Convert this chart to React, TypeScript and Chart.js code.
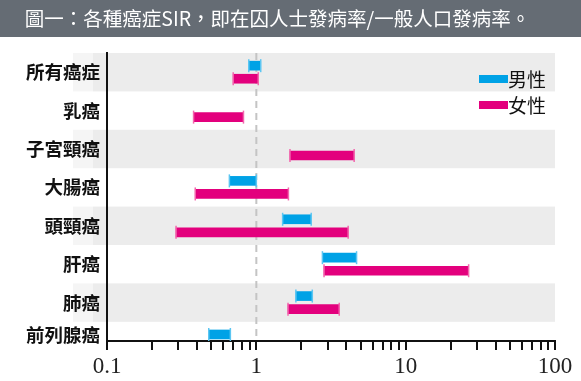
import { useEffect, useRef } from "react";
import { Chart, registerables } from "chart.js";
Chart.register(...registerables);

const TITLE = "圖一：各種癌症SIR，即在囚人士發病率/一般人口發病率。";
const categories = ["所有癌症", "乳癌", "子宮頸癌", "大腸癌", "頭頸癌", "肝癌", "肺癌", "前列腺癌"];
const seriesNames = ["男性", "女性"];
const maleLow: (number | null)[] = [0.89, null, null, 0.66, 1.5, 2.77, 1.84, 0.48];
const maleHigh: (number | null)[] = [1.07, null, null, 1.0, 2.33, 4.69, 2.37, 0.67];
const femaleLow: (number | null)[] = [0.7, 0.38, 1.68, 0.39, 0.29, 2.84, 1.63, null];
const femaleHigh: (number | null)[] = [1.03, 0.82, 4.52, 1.64, 4.12, 26.4, 3.59, null];
const xTickLabels = [0.1, 1, 10, 100];
const referenceValue = 1;

const BLUE = "#00a2e6";
const PINK = "#e3007d";
const BLUE_CAP = "#5cc6f2";
const PINK_CAP = "#f266ad";

function buildData(lo: (number | null)[], hi: (number | null)[], shift: number) {
  const out: any[] = [];
  categories.forEach((_, i) => {
    const a = lo[i];
    const b = hi[i];
    if (a != null && b != null) out.push({ x: [a, b], y: i + shift });
  });
  return out;
}

const bgPlugin = {
  id: "bgPlugin",
  beforeDraw(chart: any) {
    const { ctx, chartArea, scales } = chart;
    ctx.save();
    ctx.fillStyle = "#ffffff";
    ctx.fillRect(0, 0, chart.width, chart.height);
    ctx.fillStyle = "#656c74";
    ctx.fillRect(0, 0, chart.width, 37);
    const y = scales.y;
    for (let i = 0; i < categories.length; i += 2) {
      const t = Math.max(y.getPixelForValue(i - 0.5), chartArea.top);
      const b = Math.min(y.getPixelForValue(i + 0.5), chartArea.bottom);
      if (b <= t) continue;
      ctx.fillStyle = "#f5f5f5";
      ctx.fillRect(chartArea.left - 34, t, 20, b - t);
      ctx.fillStyle = "#ececec";
      ctx.fillRect(chartArea.left - 14, t, chartArea.right - chartArea.left + 14, b - t);
    }
    const x1 = scales.x.getPixelForValue(referenceValue);
    ctx.strokeStyle = "#c4c4c4";
    ctx.lineWidth = 2;
    ctx.setLineDash([7, 5]);
    ctx.beginPath();
    ctx.moveTo(x1, chartArea.top);
    ctx.lineTo(x1, chartArea.bottom);
    ctx.stroke();
    ctx.restore();
  },
};

const capPlugin = {
  id: "capPlugin",
  afterDatasetsDraw(chart: any) {
    const { ctx } = chart;
    ctx.save();
    chart.data.datasets.forEach((ds: any, di: number) => {
      const meta = chart.getDatasetMeta(di);
      ctx.strokeStyle = ds.capColor;
      ctx.lineWidth = 1.5;
      meta.data.forEach((el: any) => {
        const { x, base, y, height } = el.getProps(["x", "base", "y", "height"], true);
        const h = height / 2 + 2;
        [x, base].forEach((px: number) => {
          ctx.beginPath();
          ctx.moveTo(px, y - h);
          ctx.lineTo(px, y + h);
          ctx.stroke();
        });
      });
    });
    ctx.restore();
  },
};

const legendPlugin = {
  id: "legendPlugin",
  afterDraw(chart: any) {
    const { ctx, chartArea } = chart;
    ctx.save();
    chart.data.datasets.forEach((ds: any, i: number) => {
      const cy = chartArea.top + 26 + i * 26;
      const sx = chartArea.right - 76;
      ctx.fillStyle = ds.backgroundColor;
      ctx.fillRect(sx, cy - 4, 29, 8);
      ctx.fillStyle = "#111";
      ctx.font = "19px 'Noto Sans CJK TC'";
      ctx.textBaseline = "middle";
      ctx.textAlign = "left";
      ctx.fillText(ds.label, sx + 29, cy + 1);
    });
    ctx.restore();
  },
};

export default function App() {
  const ref = useRef<HTMLCanvasElement>(null);
  useEffect(() => {
    const canvas = ref.current;
    if (!canvas) return;
    const chart = new Chart(canvas, {
      type: "bar",
      data: {
        datasets: [
          {
            label: seriesNames[0],
            data: buildData(maleLow, maleHigh, -0.17),
            backgroundColor: BLUE,
            capColor: BLUE_CAP,
            barThickness: 9,
            grouped: false,
          } as any,
          {
            label: seriesNames[1],
            data: buildData(femaleLow, femaleHigh, 0.17),
            backgroundColor: PINK,
            capColor: PINK_CAP,
            barThickness: 9,
            grouped: false,
          } as any,
        ],
      },
      options: {
        indexAxis: "y",
        animation: false,
        responsive: false,
        events: [],
        layout: { padding: { left: 0, right: 26, top: 0, bottom: 0 } },
        plugins: {
          legend: { display: false },
          tooltip: { enabled: false },
          title: {
            display: true,
            text: TITLE,
            color: "#ffffff",
            font: { family: "'Noto Sans CJK TC'", size: 19.5, weight: "normal" as any, lineHeight: 1.2 },
            padding: { top: 7.2, bottom: 22.4 },
          },
        },
        scales: {
          x: {
            type: "logarithmic",
            min: 0.1,
            max: 100,
            offset: false,
            afterBuildTicks: (scale: any) => {
              const vals: number[] = [];
              [0.1, 1, 10].forEach((d) => {
                for (let k = 1; k <= 9; k++) vals.push(Number((d * k).toPrecision(3)));
              });
              vals.push(100);
              scale.ticks = vals.map((v) => ({ value: v }));
            },
            afterFit: (scale: any) => {
              scale.height = 40;
            },
            grid: {
              display: true,
              drawOnChartArea: false,
              drawTicks: true,
              tickLength: 9,
              color: "#111",
              lineWidth: 2,
            },
            border: { display: true, color: "#111", width: 2 },
            ticks: {
              autoSkip: false,
              maxRotation: 0,
              padding: 3,
              color: "#222",
              font: { family: "'Liberation Sans Narrow'", size: 23 },
              callback: (v: any) => (xTickLabels.includes(Number(v)) ? String(v) : ""),
            },
          },
          y: {
            type: "linear",
            reverse: true,
            offset: false,
            min: -0.5,
            max: 7,
            afterBuildTicks: (scale: any) => {
              scale.ticks = categories.map((_, i) => ({
                value: i === categories.length - 1 ? i - 0.15 : i,
              }));
            },
            afterFit: (scale: any) => {
              scale.width = 107;
            },
            grid: { display: false, drawTicks: false, offset: false },
            border: { display: true, color: "#111", width: 2 },
            ticks: {
              autoSkip: false,
              padding: 7,
              color: "#111",
              font: { family: "'Noto Sans CJK TC'", size: 18.5, weight: "bold" as any },
              callback: (_v: any, i: number) => categories[i],
            },
          },
        },
      } as any,
      plugins: [bgPlugin, capPlugin, legendPlugin],
    });
    return () => chart.destroy();
  }, []);
  return (
    <div style={{ position: "fixed", left: 0, top: 0, width: 581, height: 381 }}>
      <canvas ref={ref} width={581} height={381} style={{ width: 581, height: 381, display: "block" }} />
    </div>
  );
}
